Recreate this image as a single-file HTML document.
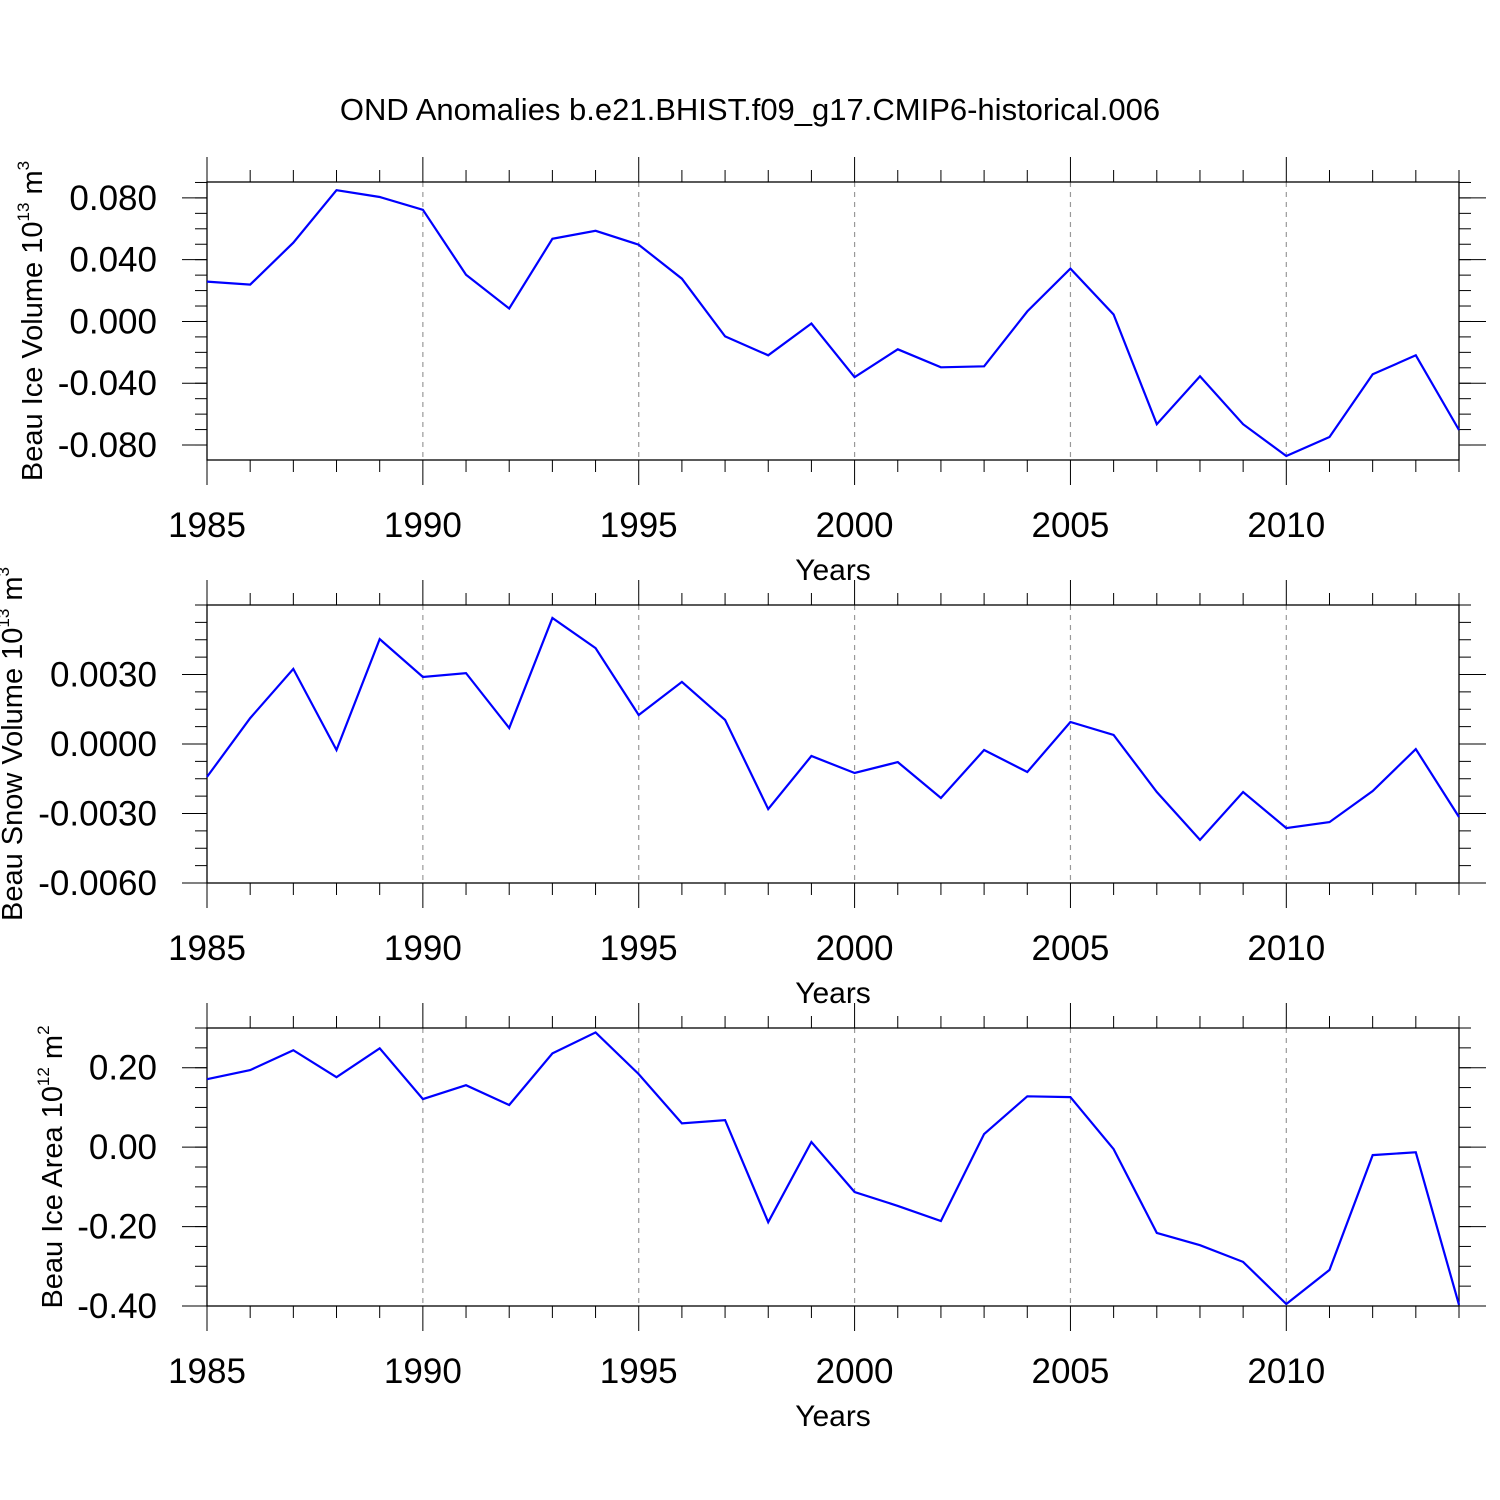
<!DOCTYPE html>
<html><head><meta charset="utf-8"><style>
html,body{margin:0;padding:0;background:#fff;}
svg{display:block;font-family:"Liberation Sans",Arial,sans-serif;}
</style></head><body>
<svg id="chart" width="1500" height="1500" viewBox="0 0 1500 1500" xmlns="http://www.w3.org/2000/svg">
<text x="750" y="120" font-size="31" text-anchor="middle">OND Anomalies b.e21.BHIST.f09_g17.CMIP6-historical.006</text>
</svg>
<script>
const years = [1985,1986,1987,1988,1989,1990,1991,1992,1993,1994,1995,1996,1997,1998,1999,2000,2001,2002,2003,2004,2005,2006,2007,2008,2009,2010,2011,2012,2013,2014];
const iceVolume = [0.0258,0.0239,0.051,0.085,0.0806,0.0723,0.0303,0.0084,0.0535,0.0587,0.0497,0.0277,-0.0097,-0.0219,-0.0013,-0.0361,-0.018,-0.0297,-0.029,0.0065,0.0342,0.0045,-0.0665,-0.0355,-0.0665,-0.0871,-0.0748,-0.0342,-0.0219,-0.0703];
const snowVolume = [-0.00142,0.00112,0.00324,-0.00026,0.00453,0.00289,0.00306,0.00069,0.00544,0.00414,0.00125,0.00268,0.00104,-0.00281,-0.00052,-0.00125,-0.00078,-0.00233,-0.00026,-0.00121,0.00095,0.00039,-0.00207,-0.00414,-0.00207,-0.00363,-0.00337,-0.00203,-0.00022,-0.00315];
const iceArea = [0.171,0.194,0.244,0.176,0.249,0.121,0.156,0.106,0.236,0.289,0.184,0.060,0.068,-0.189,0.013,-0.113,-0.148,-0.186,0.033,0.128,0.126,-0.005,-0.216,-0.247,-0.289,-0.395,-0.309,-0.020,-0.013,-0.397];
const iceVolTicks = [0.08,0.04,0,-0.04,-0.08];
const iceVolLabels = ["0.080","0.040","0.000","-0.040","-0.080"];
const snowTicks = [0.003,0,-0.003,-0.006];
const snowLabels = ["0.0030","0.0000","-0.0030","-0.0060"];
const areaTicks = [0.2,0,-0.2,-0.4];
const areaLabels = ["0.20","0.00","-0.20","-0.40"];
const xTicks = [1985,1990,1995,2000,2005,2010];

const NS="http://www.w3.org/2000/svg";
const svg=document.getElementById('chart');
function mk(tag,attrs,parent){const e=document.createElementNS(NS,tag);for(const k in attrs)e.setAttribute(k,attrs[k]);(parent||svg).appendChild(e);return e;}

const X0=207,X1=1459;
function xs(yr){return X0+(yr-1985)*(X1-X0)/29;}

const panels=[
 {name:'ice-volume',top:182,bot:460,ymin:-0.0897,ymax:0.0903,data:iceVolume,ticks:iceVolTicks,labels:iceVolLabels,minor:0.01,title:'Beau Ice Volume 10',sup:'13',unit:' m',usup:'3',tx:32},
 {name:'snow-volume',top:605,bot:883,ymin:-0.006,ymax:0.006,data:snowVolume,ticks:snowTicks,labels:snowLabels,minor:0.00075,title:'Beau Snow Volume 10',sup:'13',unit:' m',usup:'3',tx:12},
 {name:'ice-area',top:1028,bot:1306,ymin:-0.4,ymax:0.3,data:iceArea,ticks:areaTicks,labels:areaLabels,minor:0.05,title:'Beau Ice Area 10',sup:'12',unit:' m',usup:'2',tx:52}
];

panels.forEach(p=>{
 const g=mk('g',{});
 
 
 const ys=v=>p.bot-(v-p.ymin)*(p.bot-p.top)/(p.ymax-p.ymin);
 xTicks.slice(1).forEach(yr=>{
  const l=mk('line',{x1:xs(yr),x2:xs(yr),y1:p.top,y2:p.bot,stroke:'#999','stroke-width':1.2,'stroke-dasharray':'5,5'},g);
  
  
 });
 const box=mk('rect',{x:X0,y:p.top,width:X1-X0,height:p.bot-p.top,fill:'none',stroke:'#000','stroke-width':1.3},g);
 
 
 years.forEach(yr=>{
  const major=(yr%5===0);const len=major?25:12;const x=xs(yr);
  mk('line',{x1:x,x2:x,y1:p.top,y2:p.top-len,stroke:'#000','stroke-width':1},g);
  mk('line',{x1:x,x2:x,y1:p.bot,y2:p.bot+len,stroke:'#000','stroke-width':1},g);
 });
 xTicks.forEach(yr=>{
  const t=mk('text',{x:xs(yr),y:p.bot+77,'font-size':35,'text-anchor':'middle'},g);
  t.textContent=yr;
  
  
 });
 const xt=mk('text',{x:833,y:p.bot+120,'font-size':30,'text-anchor':'middle'},g);
 xt.textContent='Years';
 
 
 const n0=Math.ceil(p.ymin/p.minor-1e-6),n1=Math.floor(p.ymax/p.minor+1e-6);
 for(let i=n0;i<=n1;i++){const y=ys(i*p.minor);
  mk('line',{x1:X0,x2:X0-12,y1:y,y2:y,stroke:'#000','stroke-width':1},g);
  mk('line',{x1:X1,x2:X1+12,y1:y,y2:y,stroke:'#000','stroke-width':1},g);}
 p.ticks.forEach((v,i)=>{const y=ys(v);
  mk('line',{x1:X0,x2:X0-25,y1:y,y2:y,stroke:'#000','stroke-width':1},g);
  mk('line',{x1:X1,x2:X1+27,y1:y,y2:y,stroke:'#000','stroke-width':1},g);
  const t=mk('text',{x:157,y:y+12,'font-size':35,'text-anchor':'end'},g);
  t.textContent=p.labels[i];
  
  
 });
 const cy=(p.top+p.bot)/2;
 const yt=mk('text',{x:0,y:0,'font-size':29,'text-anchor':'middle',transform:`translate(${p.tx+10},${cy}) rotate(-90)`},g);
 
 
 yt.appendChild(document.createTextNode(p.title));
 const s1=mk('tspan',{'font-size':17,dy:-13},yt);s1.textContent=p.sup;
 const s2=mk('tspan',{dy:13},yt);s2.textContent=p.unit;
 const s3=mk('tspan',{'font-size':17,dy:-13},yt);s3.textContent=p.usup;
 const pts=p.data.map((v,i)=>xs(years[i]).toFixed(1)+','+ys(v).toFixed(1)).join(' ');
 const pl=mk('polyline',{points:pts,fill:'none',stroke:'#0000ff','stroke-width':2.2,'stroke-linejoin':'miter'},g);
 
 
});
</script>
</body></html>
